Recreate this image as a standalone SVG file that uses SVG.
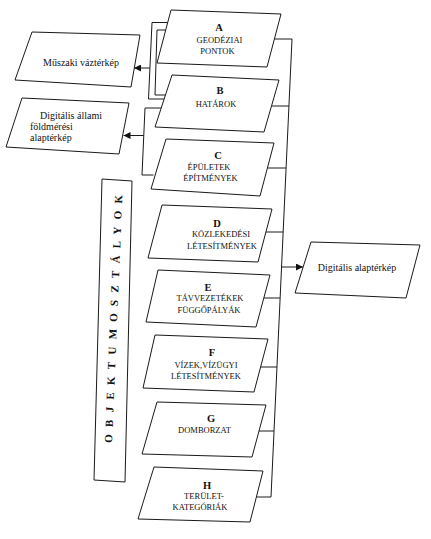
<svg xmlns="http://www.w3.org/2000/svg" width="431" height="539" viewBox="0 0 431 539">
<defs>
<style>
.box{fill:#fff;stroke:#1a1a1a;stroke-width:1}
.ln{fill:none;stroke:#1a1a1a;stroke-width:1}
text{font-family:'Liberation Serif','Times New Roman','DejaVu Serif',serif;fill:#111}
.t{text-anchor:middle}
.cap{font-size:8.5px}
.let{font-size:10.5px;font-weight:bold}
.lab{font-size:10px}
.big{font-size:11px;font-weight:bold}
</style>
<marker id="ah" viewBox="0 0 10 10" refX="10" refY="5" markerWidth="7" markerHeight="7" markerUnits="userSpaceOnUse" orient="auto">
<path d="M0,0 L10,5 L0,10 z" fill="#111"/>
</marker>
</defs>
<rect width="431" height="539" fill="#fff"/>

<g id="connectors">
<polyline class="ln" points="169,22.5 152,22.5 148.5,99 164.5,99"/>
<polyline class="ln" points="166.5,30 157,30 155,95 166.5,95"/>
<polyline class="ln" points="162.5,108 145,108 142,175 153.5,175"/>
<line class="ln" x1="150" y1="68" x2="134" y2="68" marker-end="url(#ah)"/>
<line class="ln" x1="143.6" y1="135.5" x2="123.5" y2="135.5" marker-end="url(#ah)"/>
<polyline class="ln" points="274.4,39 292,39 271,497 256.4,497"/>
<line class="ln" x1="271.5" y1="106" x2="289" y2="106"/>
<line class="ln" x1="267.4" y1="168" x2="286" y2="168"/>
<line class="ln" x1="265.9" y1="232" x2="283" y2="232"/>
<line class="ln" x1="263.8" y1="298" x2="280" y2="298"/>
<line class="ln" x1="260.6" y1="367" x2="277" y2="367"/>
<line class="ln" x1="259" y1="431" x2="274" y2="431"/>
<line class="ln" x1="281.5" y1="267" x2="303" y2="267" marker-end="url(#ah)"/>
</g>

<g id="muszaki">
<polygon class="box" points="32,32 140,35 131,87 15,80"/>
<text class="t lab" x="81" y="66">Műszaki váztérkép</text>
</g>

<g id="digitalis-allami">
<polygon class="box" points="22,98 129,103 119,154 6,147"/>
<text class="lab" x="40" y="118.5">Digitális állami</text>
<text class="lab" x="30" y="129.5">földmérési</text>
<text class="lab" x="30" y="141">alaptérkép</text>
</g>

<g id="objektumosztalyok">
<polygon class="box" points="102,179 132,181 125,482 94,480"/>
<text class="big" transform="translate(112,443) rotate(-87.6)" x="0" y="0" textLength="248" lengthAdjust="spacing">OBJEKTUMOSZTÁLYOK</text>
</g>

<g id="A">
<polygon class="box" points="171,10 281,14 267,67 157,63"/>
<text class="t let" x="219" y="31">A</text>
<text class="t cap" x="219.5" y="42.5">GEODÉZIAI</text>
<text class="t cap" x="217.5" y="54">PONTOK</text>
</g>

<g id="B">
<polygon class="box" points="172,75 279,80 264,132 155,127"/>
<text class="t let" x="220" y="94">B</text>
<text class="t cap" x="216" y="107">HATÁROK</text>
</g>

<g id="C">
<polygon class="box" points="166,139 274,143 260,196 151,189"/>
<text class="t let" x="218" y="159">C</text>
<text class="t cap" x="209" y="169.5">ÉPÜLETEK</text>
<text class="t cap" x="210.5" y="180.5">ÉPÍTMÉNYEK</text>
</g>

<g id="D">
<polygon class="box" points="162,205 272,209 258,262 148,258"/>
<text class="t let" x="217" y="227">D</text>
<text class="t cap" x="221" y="237">KÖZLEKEDÉSI</text>
<text class="t cap" x="222" y="248.5">LÉTESÍTMÉNYEK</text>
</g>

<g id="E">
<polygon class="box" points="158,270 270,275 256,327 146,322"/>
<text class="t let" x="208" y="291">E</text>
<text class="t cap" x="210" y="301">TÁVVEZETÉKEK</text>
<text class="t cap" x="209" y="312.5">FÜGGŐPÁLYÁK</text>
</g>

<g id="F">
<polygon class="box" points="155,335 268,339 254,392 143,388"/>
<text class="t let" x="212" y="356">F</text>
<text class="t cap" x="206" y="368">VÍZEK,VÍZÜGYI</text>
<text class="t cap" x="206" y="378.5">LÉTESÍTMÉNYEK</text>
</g>

<g id="G">
<polygon class="box" points="157,402 266,405 252,457 142,454"/>
<text class="t let" x="211" y="422">G</text>
<text class="t cap" x="204.5" y="433">DOMBORZAT</text>
</g>

<g id="H">
<polygon class="box" points="154,467 263,471 250,522 138,519"/>
<text class="t let" x="207" y="489">H</text>
<text class="t cap" x="204" y="499">TERÜLET-</text>
<text class="t cap" x="200" y="509.5">KATEGÓRIÁK</text>
</g>

<g id="digitalis-alapterkep">
<polygon class="box" points="311,242 420,245 406,298 295,293"/>
<text class="t lab" x="357" y="271">Digitális alaptérkép</text>
</g>
</svg>
